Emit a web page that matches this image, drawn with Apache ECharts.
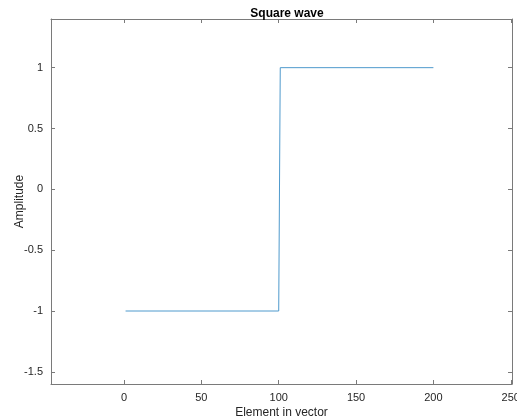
<!DOCTYPE html>
<html>
<head>
<meta charset="utf-8">
<script src="https://cdn.jsdelivr.net/npm/echarts@6/dist/echarts.min.js"></script>
<style>
  html, body { margin: 0; padding: 0; background: #fff; }
  #chart { width: 517px; height: 419px; }
</style>
</head>
<body>
<div id="chart"></div>
<script>
// Vertices of the square wave: elements 1..100 at -1, elements 101..200 at +1
const elementIndex = [1, 100, 101, 200];
const amplitude = [-1, -1, 1, 1];

const xTicks = [0, 50, 100, 150, 200, 250];
const yTicks = [-1.5, -1, -0.5, 0, 0.5, 1];

const FONT = '"Liberation Sans", Arial, Helvetica, sans-serif';
const AXIS_COLOR = '#7a7a7a';
const TEXT_COLOR = '#262626';

const points = elementIndex.map((x, i) => [x, amplitude[i]]);

function frameAxis(extra) {
  return Object.assign({
    type: 'value',
    axisLine: { show: true, onZero: false, lineStyle: { color: AXIS_COLOR, width: 1 } },
    axisTick: { show: true, inside: true, length: 4, lineStyle: { color: AXIS_COLOR } },
    splitLine: { show: false }
  }, extra);
}

const chart = echarts.init(document.getElementById('chart'), null, { renderer: 'canvas' });
chart.setOption({
  animation: false,
  backgroundColor: '#ffffff',
  title: {
    text: 'Square wave',
    left: 282, top: 3,
    textAlign: 'center',
    textStyle: { fontFamily: FONT, fontSize: 12, fontWeight: 'bold', color: '#000' }
  },
  grid: { left: 51, right: 5, top: 19, bottom: 35, containLabel: false, outerBoundsMode: 'none' },
  xAxis: [
    frameAxis({
      position: 'bottom', min: -47.2, max: 250.8,
      name: 'Element in vector', nameLocation: 'middle', nameGap: 23, nameMoveOverlap: false,
      nameTextStyle: { fontFamily: FONT, fontSize: 12, color: TEXT_COLOR },
      axisTick: { show: true, inside: true, length: 4, customValues: xTicks, lineStyle: { color: AXIS_COLOR } },
      axisLabel: { customValues: xTicks, margin: 8, fontFamily: FONT, fontSize: 11, color: TEXT_COLOR, showMinLabel: true, showMaxLabel: true }
    }),
    frameAxis({
      position: 'top', min: -47.2, max: 250.8,
      axisTick: { show: true, inside: true, length: 4, customValues: xTicks, lineStyle: { color: AXIS_COLOR } },
      axisLabel: { show: false }
    })
  ],
  yAxis: [
    frameAxis({
      position: 'left', min: -1.6, max: 1.4,
      name: 'Amplitude', nameLocation: 'middle', nameGap: 25, nameRotate: 90, nameMoveOverlap: false,
      nameTextStyle: { fontFamily: FONT, fontSize: 12, color: TEXT_COLOR },
      axisTick: { show: true, inside: true, length: 4, customValues: yTicks, lineStyle: { color: AXIS_COLOR } },
      axisLabel: { customValues: yTicks, margin: 8, fontFamily: FONT, fontSize: 11, color: TEXT_COLOR }
    }),
    frameAxis({
      position: 'right', min: -1.6, max: 1.4,
      axisTick: { show: true, inside: true, length: 4, customValues: yTicks, lineStyle: { color: AXIS_COLOR } },
      axisLabel: { show: false }
    })
  ],
  series: [{
    type: 'line',
    xAxisIndex: 0, yAxisIndex: 0,
    data: points,
    showSymbol: false,
    symbol: 'none',
    lineStyle: { color: '#4f9acd', width: 1 },
    clip: false
  }]
});
</script>
</body>
</html>
